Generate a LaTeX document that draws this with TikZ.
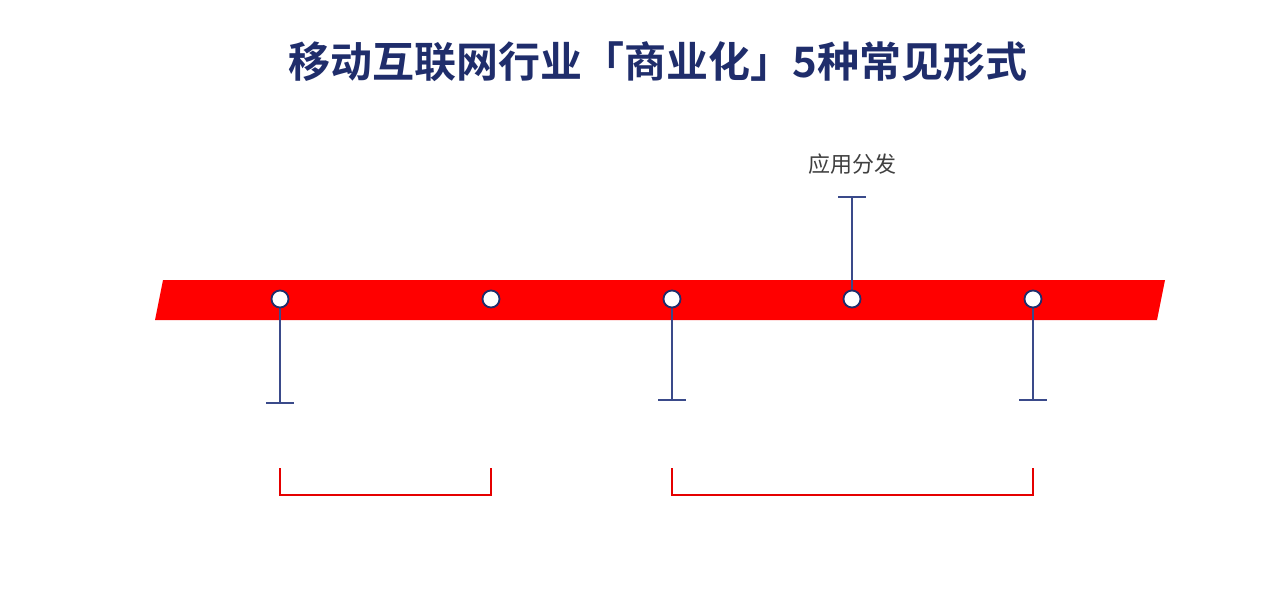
\documentclass[tikz,border=0pt]{standalone}
\usepackage{fontspec}
\newfontfamily\cjk{Noto Sans CJK SC}
\newfontfamily\cjkb{Noto Sans CJK SC Bold}
\definecolor{navy}{HTML}{1F2D6B}
\definecolor{stem}{HTML}{3A4A8A}
\definecolor{band}{HTML}{FF0000}
\begin{document}
\begin{tikzpicture}[x=1pt,y=-1pt,
  dot/.style={circle,draw=navy,fill=white,line width=1.8pt,minimum size=17pt,inner sep=0pt},
  stemline/.style={draw=stem,line width=1.5pt},
  brk/.style={draw=red!90!black,line width=1.5pt}]
\useasboundingbox (0,0) rectangle (1280,604);
\fill[white] (0,0) rectangle (1280,604);
\node[text=navy,font=\cjkb\fontsize{42}{46}\selectfont] (title) at (658,62) {移动互联网行业「商业化」5种常见形式};
\fill[band] (163,280) -- (1165,280) -- (1157,320) -- (155,320) -- cycle;
\foreach \n/\x in {a/280,b/491,c/672,d/852,e/1033}{\coordinate (p\n) at (\x,299);}
\coordinate (ea) at (280,403); \coordinate (ec) at (672,400); \coordinate (ee) at (1033,400); \coordinate (ed) at (852,197);
\draw[stemline] (pa) -- (ea) (266,403) -- (294,403);
\draw[stemline] (pc) -- (ec) (658,400) -- (686,400);
\draw[stemline] (pe) -- (ee) (1019,400) -- (1047,400);
\draw[stemline] (pd) -- (ed) (838,197) -- (866,197);
\foreach \n in {a,b,c,d,e}{\node[dot] at (p\n) {};}
\node[text=black!75,font=\cjk\fontsize{22}{26}\selectfont] (lab) at (852,164) {应用分发};
\draw[brk] (280,468) -- (280,495) -- (491,495) -- (491,468);
\draw[brk] (672,468) -- (672,495) -- (1033,495) -- (1033,468);
\end{tikzpicture}
\end{document}
